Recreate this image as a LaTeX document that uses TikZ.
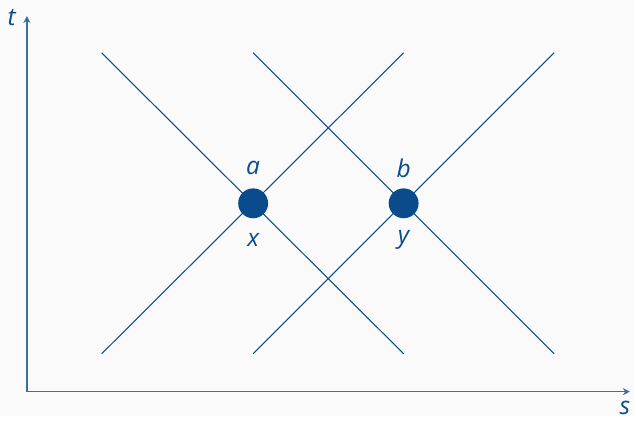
\documentclass[tikz,border=0pt]{standalone}
\usepackage{fontspec}
\setmainfont{Open Sans}
\usetikzlibrary{arrows.meta}
\definecolor{ink}{HTML}{0A4B8C}
\definecolor{paper}{HTML}{FAFAFA}
\tikzset{lbl/.style={ink,font=\fontsize{14}{16}\selectfont\itshape}}
\begin{document}
\begin{tikzpicture}[x=0.02cm,y=0.02cm]
\fill[paper] (0,0) rectangle (636,417);
\draw[ink!80,line width=0.8pt,-{Stealth[length=4pt,width=4pt]}] (27,24)--(27,401); \draw[ink!80,line width=0.8pt,-{Stealth[length=4pt,width=4pt]}] (27,24)--(632,24);
\node[lbl,anchor=east] (t) at (22,399) {t}; \node[lbl,anchor=north] (s) at (627,21) {s};
\coordinate (p1) at (102,364); \coordinate (p2) at (405,62);
\coordinate (q1) at (102,62); \coordinate (q2) at (405,364);
\coordinate (r1) at (254,364); \coordinate (r2) at (556,62);
\coordinate (u1) at (254,62); \coordinate (u2) at (556,364);
\draw[ink,line width=0.6pt] (p1)--(p2); \draw[ink,line width=0.6pt] (q1)--(q2);
\draw[ink,line width=0.6pt] (r1)--(r2); \draw[ink,line width=0.6pt] (u1)--(u2);
\node[circle,fill=ink,minimum size=30*0.02cm,inner sep=0pt] (dx) at (254,213) {};
\node[circle,fill=ink,minimum size=30*0.02cm,inner sep=0pt] (dy) at (405,213) {};
\node[lbl] (a) at (254,248) {a}; \node[lbl] (x) at (254,176) {x};
\node[lbl] (b) at (405,248) {b}; \node[lbl] (y) at (405,176) {y};
\end{tikzpicture}
\end{document}
